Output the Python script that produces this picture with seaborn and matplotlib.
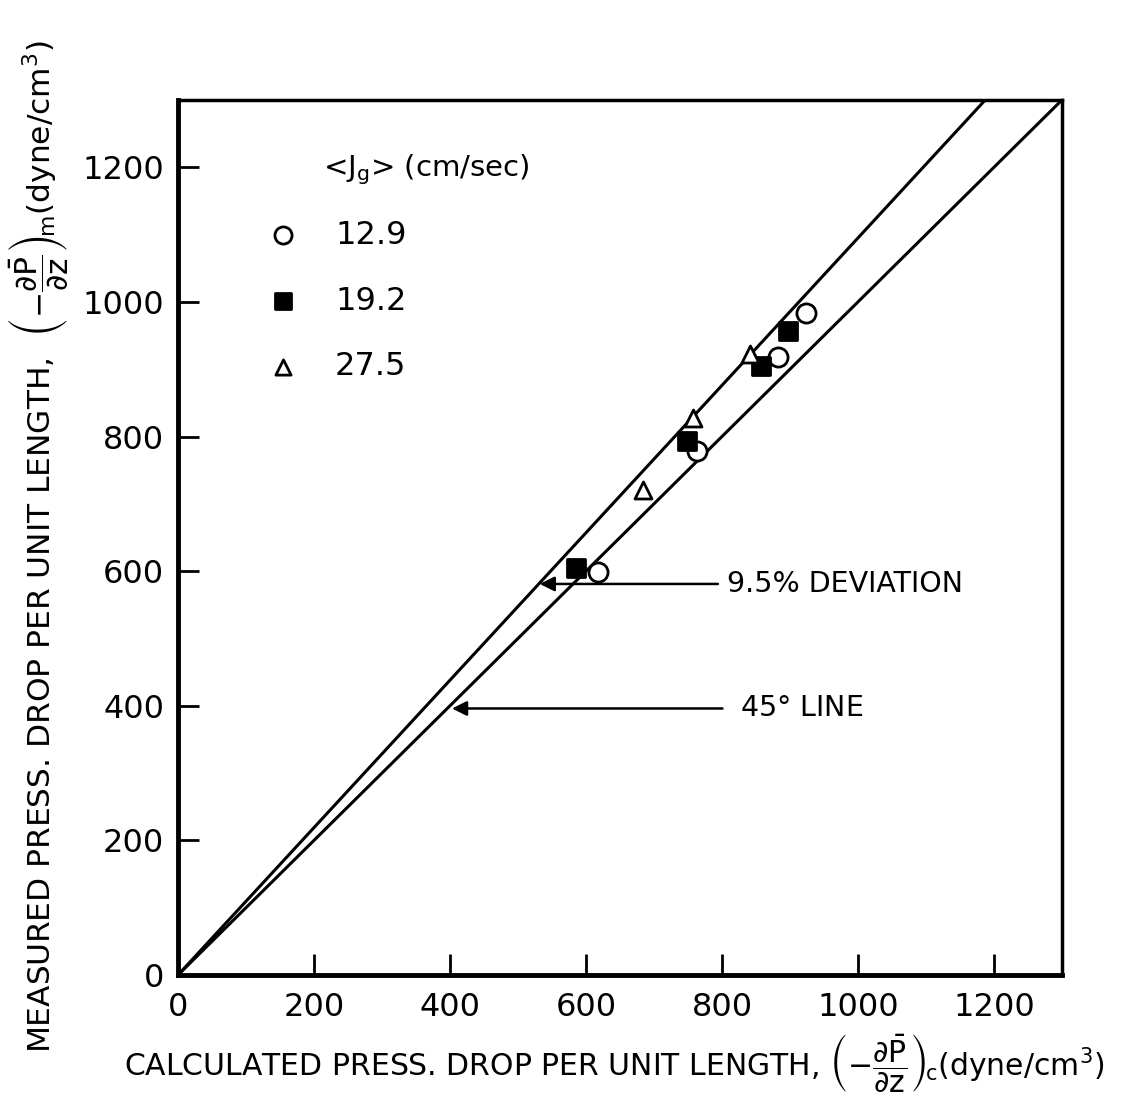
import matplotlib
matplotlib.use("Agg")
import matplotlib.pyplot as plt
import seaborn as sns
import pandas as pd
import numpy as np

# ---- data ----
jg_labels = ["12.9", "19.2", "27.5"]
calc_129 = [618, 763, 882, 923]
meas_129 = [599, 779, 918, 984]
calc_192 = [585, 749, 857, 897]
meas_192 = [604, 793, 905, 957]
calc_275 = [684, 757, 841]
meas_275 = [720, 827, 923]
line_x = [0, 1300]
deviation = 0.095
ticks = [0, 200, 400, 600, 800, 1000, 1200]

sns.set_theme(style="white")
plt.rcParams["font.family"] = ["DejaVu Sans"]
plt.rcParams["mathtext.fontset"] = "dejavusans"

fig = plt.figure(figsize=(11.22, 11.02), dpi=100)
ax = fig.add_axes([0.1586, 0.1152, 0.9465 - 0.1586, 0.9093 - 0.1152])

df = pd.concat([
    pd.DataFrame({"x": calc_129, "y": meas_129, "jg": jg_labels[0]}),
    pd.DataFrame({"x": calc_192, "y": meas_192, "jg": jg_labels[1]}),
    pd.DataFrame({"x": calc_275, "y": meas_275, "jg": jg_labels[2]}),
])

styles = {
    "12.9": dict(marker="o", facecolor="white", s=190),
    "19.2": dict(marker="s", facecolor="black", s=150),
    "27.5": dict(marker="^", facecolor="white", s=150),
}

# lines
lx = np.array(line_x, dtype=float)
sns.lineplot(x=lx, y=lx, color="black", lw=2.2, ax=ax)
sns.lineplot(x=lx, y=lx * (1 + deviation), color="black", lw=2.2, ax=ax)

for lab in jg_labels:
    sub = df[df["jg"] == lab]
    st = styles[lab]
    sns.scatterplot(data=sub, x="x", y="y", marker=st["marker"], s=st["s"],
                    facecolor=st["facecolor"], edgecolor="black", linewidth=2,
                    ax=ax, zorder=3)

ax.set_xlim(0, 1300)
ax.set_ylim(0, 1300)
ax.set_xticks(ticks)
ax.set_yticks(ticks)
ax.set_xticklabels([str(t) for t in ticks])
ax.set_yticklabels([str(t) for t in ticks])
ax.tick_params(axis="both", direction="in", length=15, width=2, labelsize=23,
               bottom=True, left=True, top=False, right=False, color="black",
               labelcolor="black")
ax.tick_params(axis="x", pad=12)
ax.tick_params(axis="y", pad=10)

for side in ["left", "bottom"]:
    ax.spines[side].set_linewidth(3.5)
    ax.spines[side].set_color("black")
for side in ["top", "right"]:
    ax.spines[side].set_linewidth(2.5)
    ax.spines[side].set_color("black")

ax.set_xlabel(r"CALCULATED PRESS. DROP PER UNIT LENGTH, $\left(-\dfrac{\partial \bar{\mathrm{P}}}{\partial \mathrm{z}}\right)_{\!\mathrm{c}}$(dyne/cm$^3$)",
              fontsize=21.5, color="black", labelpad=4)
ax.set_ylabel(r"MEASURED PRESS. DROP PER UNIT LENGTH,  $\left(-\dfrac{\partial \bar{\mathrm{P}}}{\partial \mathrm{z}}\right)_{\!\mathrm{m}}$(dyne/cm$^3$)",
              fontsize=22.5, color="black", labelpad=2)
ax.xaxis.set_label_coords(0.493, -0.065)
ax.yaxis.set_label_coords(-0.122, 0.49)

# legend (manual)
ax.text(214, 1196, r"<J$_\mathrm{g}$> (cm/sec)", fontsize=21, ha="left", va="center", color="black")
leg_y = [1099, 1001, 904]
for lab, yy in zip(jg_labels, leg_y):
    st = styles[lab]
    ax.scatter([154], [yy], marker=st["marker"], s=st["s"] * 0.8,
               facecolor=st["facecolor"], edgecolor="black", linewidth=2)
    ax.text(231, yy, lab, fontsize=23, ha="left", va="center", color="black")

# annotations
ax.annotate("9.5% DEVIATION", xy=(532, 581), xytext=(807, 581),
            fontsize=20.5, ha="left", va="center", color="black",
            arrowprops=dict(arrowstyle="-|>", color="black", lw=1.8,
                            mutation_scale=22, shrinkA=4, shrinkB=0))
ax.annotate(r"45$\degree$ LINE", xy=(403, 396), xytext=(826, 396),
            fontsize=20.5, ha="left", va="center", color="black",
            arrowprops=dict(arrowstyle="-|>", color="black", lw=1.8,
                            mutation_scale=22, shrinkA=10, shrinkB=0))

fig.savefig("out.png", dpi=100, facecolor="white")
